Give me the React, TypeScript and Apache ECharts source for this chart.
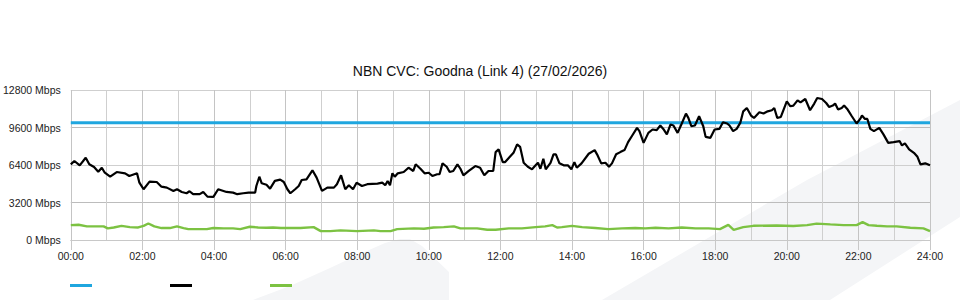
import React, { useEffect, useRef } from "react";
import * as echarts from "echarts";

const TITLE = "NBN CVC: Goodna (Link 4) (27/02/2026)";
const SERIES_NAMES = ["Capacity", "Download", "Upload"];
const SERIES_COLORS = ["#1fa6df", "#000000", "#7cc242"];
const Y_TICKS = [0, 3200, 6400, 9600, 12800];

// capacity (Mbps) over the day (minutes)
const capMinutes = [0, 1440];
const capMbps = [10000, 10000];

// download traffic: minutes since midnight, Mbps
const downMinutes = [
  0, 6, 15, 25, 31, 39, 46, 52, 57, 66, 77, 91, 98, 111, 115, 122, 132, 144, 152, 161,
  172, 178, 186, 194, 199, 205, 216, 222, 229, 239, 247, 261, 272, 279, 289, 298, 309, 311, 316, 320,
  328, 334, 342, 351, 357, 363, 368, 376, 382, 387, 395, 405, 412, 421, 430, 441, 446, 453, 460, 466,
  473, 479, 488, 497, 514, 522, 527, 531, 535, 539, 543, 548, 558, 566, 574, 578, 586, 593, 600, 606,
  614, 618, 623, 630, 635, 641, 648, 653, 658, 667, 678, 686, 693, 700, 708, 712, 717, 724, 728, 737,
  742, 748, 753, 759, 766, 773, 779, 783, 787, 792, 796, 804, 809, 813, 819, 826, 833, 839, 844, 848,
  856, 868, 878, 882, 889, 896, 902, 907, 914, 921, 928, 934, 941, 949, 953, 960, 968, 975, 982, 988,
  993, 999, 1005, 1010, 1017, 1024, 1031, 1035, 1040, 1046, 1053, 1060, 1064, 1072, 1079, 1087, 1093, 1100, 1104, 1110,
  1116, 1122, 1127, 1133, 1140, 1145, 1154, 1161, 1168, 1175, 1179, 1184, 1190, 1200, 1206, 1211, 1218, 1223, 1231, 1239,
  1246, 1251, 1259, 1266, 1271, 1277, 1281, 1286, 1292, 1296, 1302, 1309, 1317, 1323, 1326, 1331, 1335, 1340, 1346, 1355,
  1362, 1370, 1379, 1389, 1393, 1398, 1405, 1413, 1419, 1424, 1432, 1440,
];
const downMbps = [
  6450, 6740, 6370, 7020, 6460, 6230, 5830, 6170, 5740, 5400, 5800, 5690, 5460, 5690, 4890, 4330, 4980, 4950, 4550, 4470,
  4190, 4330, 4100, 3990, 4160, 3910, 3910, 4100, 3700, 3680, 4330, 4100, 4040, 3910, 3990, 4040, 4040, 4610, 5400, 4840,
  4720, 4380, 5040, 5150, 4950, 4330, 3990, 4330, 4610, 5120, 5180, 5950, 5320, 4190, 4470, 4470, 4760, 5520, 4330, 4670,
  4330, 4890, 4610, 4760, 4810, 4890, 4670, 5040, 4670, 5690, 5400, 5690, 5800, 6170, 5890, 6460, 6080, 5690, 5740, 5460,
  5610, 5610, 6540, 6250, 5800, 5890, 6460, 6080, 5520, 5890, 6310, 6170, 5520, 5890, 5890, 7500, 7730, 6650, 6650, 7160,
  7440, 8160, 7950, 6590, 6250, 6030, 6370, 6590, 6080, 6930, 6030, 6590, 7310, 7310, 6540, 6370, 6370, 6030, 6650, 6170,
  6540, 7360, 7670, 7310, 6540, 6590, 6250, 6540, 7310, 7500, 7670, 8350, 8920, 9570, 9290, 8290, 9140, 9430, 9370, 9770,
  9480, 9010, 9850, 9770, 9140, 9940, 10790, 10420, 9710, 9770, 10560, 9710, 8800, 8720, 9430, 9480, 10050, 9940, 9770, 9290,
  9480, 9990, 10980, 11260, 10620, 10420, 10900, 10790, 10980, 11070, 11260, 10420, 10500, 11830, 11410, 11470, 11920, 11750, 12030, 11070,
  11640, 12120, 12030, 11690, 11350, 11470, 11640, 11130, 11260, 11470, 11130, 10560, 9940, 10330, 10620, 10330, 10330, 9480, 9290, 9570,
  9010, 8290, 8350, 8440, 8070, 8240, 7730, 7440, 7100, 6460, 6540, 6370,
];

// upload traffic: minutes since midnight, Mbps
const upMinutes = [
  0, 13, 27, 55, 62, 72, 85, 99, 113, 122, 130, 140, 152, 166, 178, 189, 197, 228, 239, 256,
  272, 284, 300, 314, 328, 339, 352, 385, 407, 419, 435, 452, 480, 508, 519, 536, 547, 575, 592, 608,
  625, 642, 653, 664, 681, 698, 712, 734, 756, 779, 795, 807, 815, 823, 840, 857, 879, 901, 924, 946,
  963, 980, 1002, 1024, 1047, 1069, 1088, 1102, 1111, 1127, 1144, 1183, 1211, 1234, 1250, 1273, 1295, 1317, 1327, 1337,
  1351, 1368, 1384, 1407, 1429, 1440,
];
const upMbps = [
  1270, 1300, 1160, 1160, 990, 1070, 1210, 1100, 1070, 1210, 1410, 1160, 1020, 1020, 1160, 1020, 930, 930, 1020, 990,
  990, 930, 1130, 1070, 1040, 1070, 1020, 1020, 1100, 760, 760, 820, 760, 820, 760, 760, 930, 990, 960, 1070,
  1100, 1160, 990, 990, 990, 870, 870, 990, 990, 1100, 1160, 1270, 1070, 1100, 1210, 1100, 1020, 930, 990, 1020,
  990, 1040, 990, 1070, 990, 990, 930, 1290, 870, 1100, 1210, 1240, 1200, 1270, 1400, 1330, 1270, 1270, 1520, 1270,
  1210, 1160, 1160, 1040, 990, 760,
];

const pair = (xs: number[], ys: number[]) => xs.map((x, i) => [x, ys[i]]);
const hhmm = (v: number) => String(Math.round(v / 60)).padStart(2, "0") + ":00";
const mbps = (v: number) => String(v) + " Mbps";

const FONT = "'Liberation Sans', Arial, sans-serif";
const WM = "#f4f5f7";

export default function App() {
  const ref = useRef<HTMLDivElement>(null);
  useEffect(() => {
    if (!ref.current) return;
    const chart = echarts.init(ref.current, null, { renderer: "svg" });
    chart.setOption({
      animation: false,
      color: SERIES_COLORS,
      title: {
        text: TITLE,
        left: "center",
        top: 59,
        textStyle: { fontSize: 14, fontWeight: "normal", color: "#111", fontFamily: FONT },
      },
      graphic: [
        {
          type: "polygon",
          z: -10,
          silent: true,
          shape: {
            points: [
              [253, 300], [290, 286], [330, 268], [360, 254], [385, 243], [400, 239],
              [410, 239], [422, 246], [449, 272], [449, 300],
            ],
          },
          style: { fill: WM },
        },
        {
          type: "polygon",
          z: -10,
          silent: true,
          shape: { points: [[602, 300], [807, 180], [960, 100], [960, 217], [830, 300]] },
          style: { fill: WM },
        },
      ],
      legend: {
        left: 65,
        top: 279,
        icon: "rect",
        itemWidth: 22,
        itemHeight: 3,
        itemGap: 78,
        formatter: () => "",
        data: SERIES_NAMES,
        selectedMode: false,
      },
      grid: { left: 70, right: 30, top: 90, bottom: 60 },
      xAxis: {
        type: "value",
        min: 0,
        max: 1440,
        interval: 120,
        axisLine: { show: true, lineStyle: { color: "#c8c8c8", width: 1 } },
        axisTick: { show: true, length: 10, lineStyle: { color: "#c8c8c8" } },
        minorTick: { show: false, splitNumber: 2 },
        splitLine: { show: true, lineStyle: { color: "#c4c4c4", width: 1 } },
        minorSplitLine: { show: true, lineStyle: { color: "#cfcfcf", width: 1 } },
        axisLabel: { formatter: hhmm, fontSize: 10.5, color: "#222", fontFamily: FONT, margin: 10 },
      },
      yAxis: {
        type: "value",
        min: Y_TICKS[0],
        max: Y_TICKS[Y_TICKS.length - 1],
        interval: 3200,
        axisLine: { show: false },
        axisTick: { show: false },
        splitLine: { show: true, lineStyle: { color: ["#cfcfcf", "#bcbcbc"], width: 1 } },
        axisLabel: {
          formatter: mbps,
          fontSize: 10.5,
          color: "#222",
          fontFamily: FONT,
          margin: 10,
          padding: [0, 0, 4, 0],
        },
      },
      series: [
        {
          name: SERIES_NAMES[0],
          type: "line",
          data: pair(capMinutes, capMbps),
          symbol: "none",
          lineStyle: { width: 3, color: SERIES_COLORS[0] },
          z: 2,
        },
        {
          name: SERIES_NAMES[1],
          type: "line",
          data: pair(downMinutes, downMbps),
          symbol: "none",
          lineStyle: { width: 2.2, color: SERIES_COLORS[1] },
          z: 3,
        },
        {
          name: SERIES_NAMES[2],
          type: "line",
          data: pair(upMinutes, upMbps),
          symbol: "none",
          lineStyle: { width: 2.4, color: SERIES_COLORS[2] },
          z: 2,
        },
      ],
    });
    return () => chart.dispose();
  }, []);
  return (
    <div
      ref={ref}
      style={{ position: "fixed", left: 0, top: 0, width: 960, height: 300, background: "#fff" }}
    />
  );
}
